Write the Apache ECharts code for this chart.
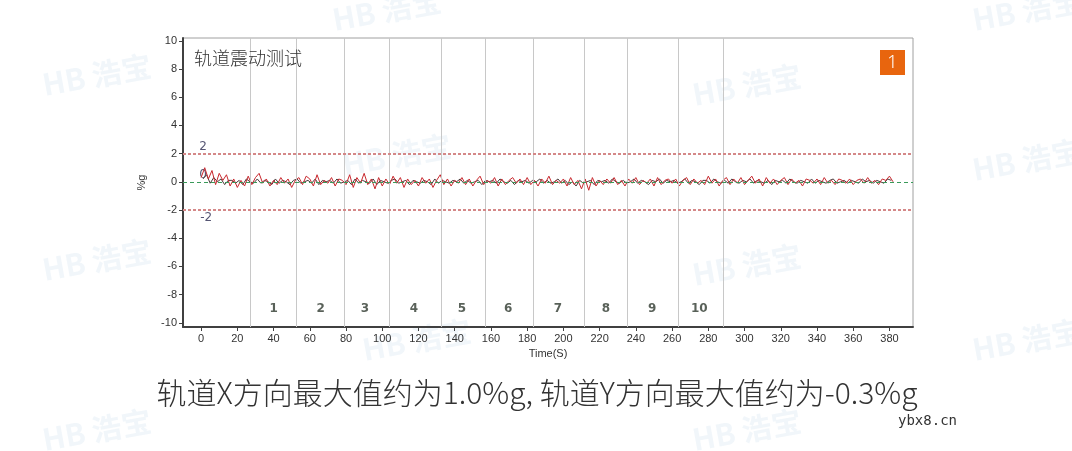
<!DOCTYPE html>
<html>
<head>
<meta charset="utf-8">
<script src="https://cdn.jsdelivr.net/npm/echarts@6/dist/echarts.min.js"></script>
<style>
html,body{margin:0;padding:0;background:#fff;}
#chart{width:1072px;height:451px;}
</style>
</head>
<body>
<div id="chart"></div>
<script>
// ---- data ----
const xTicks = [0,20,40,60,80,100,120,140,160,180,200,220,240,260,280,300,320,340,360,380];
const yTicks = [-10,-8,-6,-4,-2,0,2,4,6,8,10];
const sampleStep = 2;
const redStart = 0;   // X direction samples start time (s)
const darkStart = 1;  // Y direction samples start time (s)
const redValues = [
 0.3,1.0,0.2,0.8,-0.2,0.6,0.1,0.5,-0.3,0.2,
 -0.4,0.1,-0.3,0.4,-0.2,0.3,0.6,-0.1,0.2,-0.3,
 0.1,-0.2,0.3,-0.1,0.2,-0.4,0.1,0.3,-0.2,0.4,
 0.2,-0.3,0.5,-0.2,0.1,-0.1,0.3,-0.3,0.2,0.1,
 -0.2,0.5,-0.4,0.3,-0.1,0.6,-0.2,0.2,-0.5,0.3,
 -0.3,0.2,-0.2,0.4,-0.1,0.3,-0.4,0.2,-0.2,0.1,
 -0.3,0.3,-0.1,0.2,-0.4,0.1,0.5,-0.2,0.2,-0.3,
 0.1,-0.1,0.3,-0.2,0.2,-0.3,0.1,0.4,-0.2,0.1,
 -0.1,0.3,-0.3,0.2,-0.2,0.1,0.3,-0.1,0.2,-0.2,
 0.3,-0.2,0.1,-0.3,0.2,-0.1,0.4,-0.2,0.1,-0.1,
 0.2,-0.3,0.3,-0.2,0.1,-0.5,0.2,-0.6,0.3,-0.3,
 0.1,-0.2,0.2,-0.1,0.3,-0.2,0.1,-0.3,0.2,-0.1,
 0.3,-0.2,0.1,-0.1,0.2,-0.3,0.3,-0.2,0.1,0.2,
 -0.1,0.2,-0.3,0.1,0.3,-0.2,0.2,-0.1,0.1,-0.2,
 0.4,-0.1,0.2,-0.3,0.1,0.3,-0.2,0.2,-0.1,0.3,
 -0.2,0.1,0.4,-0.1,0.2,-0.3,0.3,-0.1,0.2,-0.2,
 0.1,0.3,-0.2,0.2,-0.1,0.1,-0.3,0.2,0.1,-0.1,
 0.2,-0.2,0.3,-0.1,0.1,-0.2,0.2,0.1,-0.1,0.2,
 -0.2,0.1,0.2,-0.1,0.3,-0.1,0.1,-0.2,0.2,0.1,
 0.4,0.0
];
const darkValues = [
 0.2,0.5,-0.1,0.3,0.0,0.2,-0.2,0.1,0.1,-0.1,
 0.1,-0.2,0.2,0.0,-0.1,0.2,-0.1,0.1,0.0,-0.2,
 0.2,-0.1,0.1,0.0,-0.2,0.1,0.2,-0.1,0.0,0.1,
 -0.1,0.2,-0.2,0.1,0.0,0.1,-0.1,0.2,-0.1,0.0,
 0.1,-0.2,0.2,-0.1,0.1,0.0,-0.1,0.2,-0.2,0.1,
 0.0,-0.1,0.1,0.2,-0.1,0.0,0.1,-0.2,0.1,0.0,
 -0.1,0.1,0.0,-0.2,0.2,-0.1,0.1,0.0,-0.1,0.1,
 0.0,0.2,-0.1,0.1,-0.1,0.0,0.1,-0.2,0.1,0.0,
 0.1,-0.1,0.2,0.0,-0.1,0.1,-0.2,0.1,0.0,0.1,
 -0.1,0.1,0.0,0.2,-0.1,0.1,-0.1,0.0,0.2,-0.1,
 0.1,-0.2,0.0,-0.3,0.1,-0.1,0.0,0.1,-0.2,0.1,
 0.0,0.1,-0.1,0.2,0.0,-0.1,0.1,-0.1,0.0,0.2,
 -0.1,0.1,0.0,-0.2,0.1,0.0,0.2,-0.1,0.1,0.0,
 0.1,-0.1,0.0,0.2,-0.1,0.1,0.0,-0.2,0.1,0.1,
 -0.1,0.2,0.0,-0.1,0.1,-0.1,0.2,0.0,-0.1,0.1,
 0.0,0.2,-0.1,0.1,0.0,-0.1,0.1,-0.2,0.1,0.0,
 0.1,-0.1,0.2,0.0,-0.1,0.1,0.0,-0.1,0.2,-0.1,
 0.1,0.0,-0.1,0.1,0.2,-0.1,0.0,0.1,-0.1,0.1,
 0.0,-0.1,0.2,0.0,0.1,-0.1,0.1,0.0,-0.1,0.2,
 0.1
];
const sectionBounds = [27,52.5,79,104,132.5,157,183.5,211.5,235,263.5,288];
const sectionLabelX = [40,66,90.5,117.5,144,169.5,197,223.5,249,275];
const sectionLabels = ['1','2','3','4','5','6','7','8','9','10'];
const sectionLabelY = -9;
const limitLines = [2,-2];
const refLabels = [{v:2,t:'2'},{v:0,t:'0'},{v:-2,t:'-2'}];
const chartTitle = '轨道震动测试';
const caption = '轨道X方向最大值约为1.0%g, 轨道Y方向最大值约为-0.3%g';

// ---- build ----
const redData = redValues.map((v,i)=>[redStart + i*sampleStep, v]);
const darkData = darkValues.map((v,i)=>[darkStart + i*sampleStep, v]);

const chart = echarts.init(document.getElementById('chart'), null, {renderer:'canvas'});
const watermarkPos = [[40,70],[690,80],[970,155],[340,150],[40,255],[690,260],[970,335],[360,335],[40,425],[690,425],[330,5],[970,5]];
const watermarks = watermarkPos.map(p=>({
  type:'text', x:p[0], y:p[1], rotation:0.18, silent:true, z:0,
  style:{text:'HB 浩宝', fontSize:30, fontWeight:'bold', fill:'rgba(205,222,238,0.28)', fontFamily:'"Noto Sans CJK SC",sans-serif'}
}));

const option = {
  backgroundColor:'#fff',
  animation:false,
  grid:{left:183, right:159, top:38, bottom:124, show:true, borderColor:'#a0a0a0', borderWidth:1, backgroundColor:'transparent'},
  xAxis:{
    type:'value', min:-10, max:393,
    name:'Time(S)', nameLocation:'middle', nameGap:21,
    nameTextStyle:{fontSize:11, color:'#333', fontFamily:'"Liberation Sans",Arial,sans-serif'},
    axisLine:{show:true, onZero:false, lineStyle:{color:'#404040', width:2}},
    axisTick:{show:true, length:4, customValues:xTicks, lineStyle:{color:'#404040'}},
    axisLabel:{customValues:xTicks, fontSize:11, color:'#333', margin:6, fontFamily:'"Liberation Sans",Arial,sans-serif'},
    splitLine:{show:false}
  },
  yAxis:{
    type:'value', min:-10.3, max:10.2,
    name:'%g', nameLocation:'middle', nameGap:36,
    nameTextStyle:{fontSize:11, color:'#333', fontFamily:'"Liberation Sans",Arial,sans-serif'},
    axisLine:{show:true, onZero:false, lineStyle:{color:'#404040', width:2}},
    axisTick:{show:true, length:4, customValues:yTicks, lineStyle:{color:'#404040'}},
    axisLabel:{customValues:yTicks, fontSize:11, color:'#333', margin:6, fontFamily:'"Liberation Sans",Arial,sans-serif'},
    splitLine:{show:false}
  },
  graphic:[
    ...watermarks,
    {type:'text', x:194, y:49, z:10, style:{text:chartTitle, fontSize:18, fill:'#333', fontFamily:'"Noto Sans CJK SC",sans-serif', fontWeight:300}},
    {type:'rect', x:880, y:50, z:10, shape:{width:25, height:25}, style:{fill:'#e8650e'}},
    {type:'text', x:892.5, y:63, z:11, style:{text:'1', fontSize:18, fill:'#fff', align:'center', verticalAlign:'middle', fontFamily:'"Noto Sans",sans-serif', fontWeight:300}},
    {type:'text', x:537, y:393, z:10, style:{text:caption, fontSize:30, fill:'#333', align:'center', verticalAlign:'middle', fontFamily:'"Noto Sans CJK SC",sans-serif', fontWeight:300}},
    {type:'text', x:957, y:421, z:10, style:{text:'ybx8.cn', fontSize:14, fill:'#333', align:'right', verticalAlign:'middle', fontFamily:'"DejaVu Sans Mono",monospace'}}
  ],
  series:[
    {
      type:'line', name:'sections', data:[], silent:true,
      markLine:{silent:true, symbol:'none', label:{show:false}, animation:false,
        lineStyle:{color:'#c8c8c8', width:1, type:'solid'},
        data: sectionBounds.map(v=>({xAxis:v}))}
    },
    {
      type:'line', name:'limits', data:[], silent:true,
      markLine:{silent:true, symbol:'none', label:{show:false}, animation:false,
        data:[
          ...limitLines.map(v=>({yAxis:v, lineStyle:{color:'#d48888', width:2, type:[3,2]}})),
          {yAxis:0, lineStyle:{color:'#3a9a5a', width:1, type:[4,3]}}
        ]}
    },
    {
      type:'line', name:'Y', data:darkData, showSymbol:false, silent:true,
      lineStyle:{color:'#4a3a3a', width:1}, z:3
    },
    {
      type:'line', name:'X', data:redData, showSymbol:false, silent:true,
      lineStyle:{color:'#c8282e', width:1}, z:4
    },
    {
      type:'scatter', name:'sectionLabels', symbolSize:0, silent:true, z:5,
      data: sectionLabels.map((t,i)=>({name:t, value:[sectionLabelX[i], sectionLabelY]})),
      label:{show:true, position:'inside', formatter:p=>p.name, fontSize:12, fontWeight:'bold', color:'#2f3a30', fontFamily:'"DejaVu Sans",sans-serif'}
    },
    {
      type:'scatter', name:'refLabels', symbolSize:0, silent:true, z:2,
      data: refLabels.map(r=>({name:r.t, value:[0, r.v], label:{offset: r.v < 0 ? [5,8] : [2,-7]}})),
      label:{show:true, position:'inside', formatter:p=>p.name, fontSize:12, color:'#2a2a50', fontFamily:'"DejaVu Sans",sans-serif'}
    }
  ]
};
chart.setOption(option);
</script>
</body>
</html>
